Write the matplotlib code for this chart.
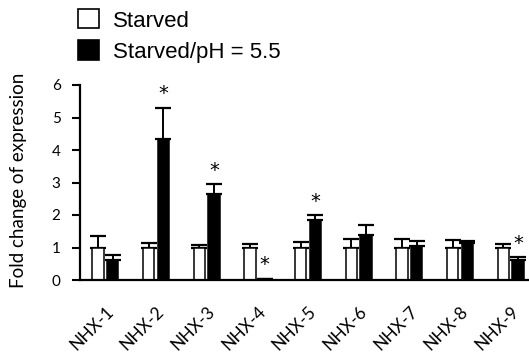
import matplotlib.pyplot as plt
import numpy as np
from matplotlib.patches import Patch
from matplotlib.transforms import ScaledTranslation

genes = ["NHX-1", "NHX-2", "NHX-3", "NHX-4", "NHX-5", "NHX-6", "NHX-7", "NHX-8", "NHX-9"]
starved = [1.0, 1.0, 1.0, 1.0, 1.0, 1.0, 0.98, 1.0, 1.0]
starved_err = [0.35, 0.15, 0.07, 0.10, 0.18, 0.26, 0.28, 0.23, 0.10]
acid = [0.61, 4.33, 2.64, 0.04, 1.85, 1.38, 1.05, 1.15, 0.62]
acid_err = [0.16, 0.97, 0.30, 0.0, 0.15, 0.31, 0.15, 0.06, 0.09]
significant = [False, True, True, True, True, False, False, False, True]

plt.rcParams["font.family"] = ["Lato", "DejaVu Sans"]

fig = plt.figure(figsize=(5.29, 3.6), dpi=100)
ax = fig.add_axes([80 / 529, 80 / 360, 456 / 529, 195 / 360])

x = np.arange(len(genes))
w = 0.225
off = 0.145
zeros = np.zeros(len(genes))

ax.bar(x - off, starved, w, color="white", edgecolor="black", linewidth=1.1, zorder=2)
ax.bar(x + off, acid, w, color="black", edgecolor="black", linewidth=1.1, zorder=2)
# one-sided (upper) error bars
ax.errorbar(x - off, starved, yerr=[zeros, starved_err], fmt="none", ecolor="black",
            elinewidth=1.4, capsize=5.5, capthick=1.6, zorder=1)
ax.errorbar(x + off, acid, yerr=[zeros, acid_err], fmt="none", ecolor="black",
            elinewidth=1.4, capsize=5.5, capthick=1.6, zorder=1)

# asterisks over the significant acid-treated bars
for i, sig in enumerate(significant):
    if sig:
        ax.annotate("*", (x[i] + off, acid[i] + acid_err[i]), xytext=(0, 6),
                    textcoords="offset points", ha="center", va="baseline",
                    fontsize=14, family="DejaVu Sans")

ax.set_xlim(-0.5, len(genes) - 0.5)
ax.set_ylim(0, 6)
ax.set_yticks(range(7))
ax.set_xticks(x)
ax.set_xticklabels(genes, rotation=45, ha="right", rotation_mode="anchor", fontsize=12.5)
shift = ScaledTranslation(-5 / 100, -2 / 100, fig.dpi_scale_trans)
for lbl in ax.get_xticklabels():
    lbl.set_transform(lbl.get_transform() + shift)
ax.tick_params(axis="x", length=0, pad=17)
ax.tick_params(axis="y", length=6, width=1.5, pad=8, labelsize=11)
for s in ["top", "right"]:
    ax.spines[s].set_visible(False)
for s in ["left", "bottom"]:
    ax.spines[s].set_linewidth(1.6)
ax.set_ylabel("Fold change of expression", fontsize=13.5)
ax.yaxis.set_label_coords(-0.116, 0.51)

handles = [Patch(facecolor="white", edgecolor="black", linewidth=1.2),
           Patch(facecolor="black", edgecolor="black", linewidth=1.2)]
fig.legend(handles, ["Starved", "Starved/pH = 5.5"], loc="upper left",
           bbox_to_anchor=(67 / 529, 1.005), frameon=False,
           prop={"family": "Liberation Sans", "size": 16},
           handlelength=0.92, handleheight=0.95, handletextpad=0.65,
           labelspacing=0.4, borderpad=0)

fig.savefig("out.png", dpi=100)
